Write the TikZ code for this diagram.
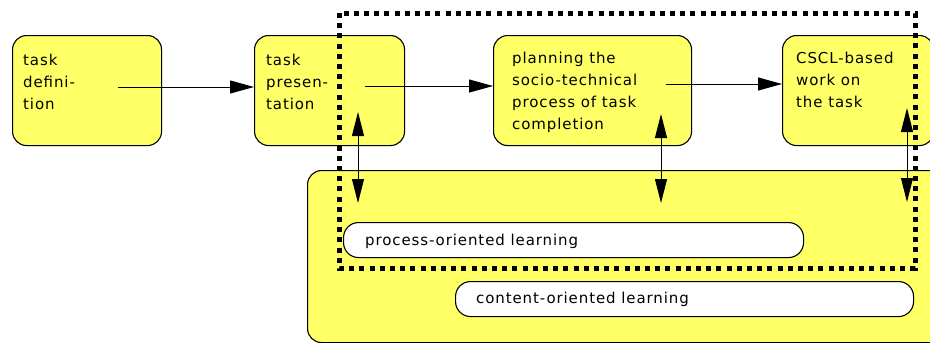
\documentclass[tikz,border=0pt]{standalone}
\usepackage{fontspec}
\setmainfont{DejaVu Sans}[LetterSpace=6]
\usetikzlibrary{arrows.meta}
\definecolor{boxyellow}{RGB}{255,255,102}
\tikzset{
  ybox/.style={draw=black, fill=boxyellow, line width=1.1pt, rounded corners=14pt, anchor=north west, inner sep=0pt},
  pill/.style={draw=black, fill=white, line width=1.1pt, rounded corners=15pt, anchor=north west, inner sep=0pt},
  btext/.style={anchor=north west, inner sep=0pt, align=left, font=\fontsize{15}{22}\selectfont},
  ptext/.style={anchor=base west, inner sep=0pt, font=\fontsize{15}{22}\selectfont},
  conn/.style={line width=1pt, -{Triangle[length=24pt,width=13pt]}},
  dconn/.style={line width=1pt, {Triangle[length=24pt,width=12pt]}-{Triangle[length=24pt,width=12pt]}},
  dotframe/.style={line width=5pt, dash pattern=on 5pt off 5.2pt}
}
\begin{document}
\begin{tikzpicture}[x=1pt,y=-1pt]
\useasboundingbox (0,0) rectangle (930,343);
\clip (0,0) rectangle (930,343);
% big container
\node[ybox, minimum width=650pt, minimum height=172pt] (big) at (307,170) {};
% pills
\node[pill, minimum width=460pt, minimum height=35pt] (pp) at (343,222) {};
\node[pill, minimum width=458pt, minimum height=35pt] (cp) at (455,281) {};
\node[ptext] (ppt) at (365,245) {process-oriented learning};
\node[ptext] (cpt) at (476,303) {content-oriented learning};
% task boxes
\node[ybox, minimum width=149pt, minimum height=110pt] (b1) at (12,35) {};
\node[ybox, minimum width=150pt, minimum height=110pt] (b2) at (254,35) {};
\node[ybox, minimum width=198pt, minimum height=110pt] (b3) at (493,35) {};
\node[ybox, minimum width=151pt, minimum height=110pt] (b4) at (782,35) {};
\node[btext] (t1) at (23,54) {task\\defini-\\tion};
\node[btext] (t2) at (266,54) {task\\presen-\\tation};
\node[btext] (t3) at (512,52) {planning the\\socio-technical\\process of task\\completion};
\node[btext] (t4) at (796,52) {CSCL-based\\work on\\the task};
% horizontal connectors
\coordinate (s1) at (118,87);
\coordinate (s2) at (365,86);
\coordinate (s3) at (666,84);
\draw[conn] (s1) -- (b2.west |- s1);
\draw[conn] (s2) -- (b3.west |- s2);
\draw[conn] (s3) -- (b4.west |- s3);
% vertical connectors
\coordinate (u1) at (358,112);
\coordinate (d1) at (358,203);
\coordinate (u2) at (661,114);
\coordinate (d2) at (661,203);
\coordinate (u3) at (907,108);
\coordinate (d3) at (907,202);
\draw[dconn] (d1) -- (u1);
\draw[dconn] (d2) -- (u2);
\draw[dconn] (d3) -- (u3);
% dotted frame
\coordinate (f1) at (339,13);
\coordinate (f2) at (915,268);
\draw[dotframe] (f1) rectangle (f2);
\end{tikzpicture}
\end{document}
